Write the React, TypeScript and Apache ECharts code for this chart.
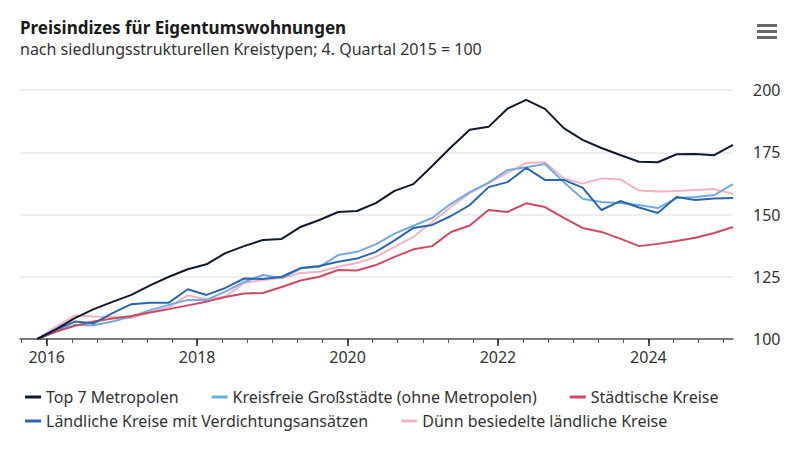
import React, { useEffect, useRef } from "react";
import * as echarts from "echarts";

const QUARTERS = [
  "Q4 2015",
  "Q1 2016", "Q2 2016", "Q3 2016", "Q4 2016",
  "Q1 2017", "Q2 2017", "Q3 2017", "Q4 2017",
  "Q1 2018", "Q2 2018", "Q3 2018", "Q4 2018",
  "Q1 2019", "Q2 2019", "Q3 2019", "Q4 2019",
  "Q1 2020", "Q2 2020", "Q3 2020", "Q4 2020",
  "Q1 2021", "Q2 2021", "Q3 2021", "Q4 2021",
  "Q1 2022", "Q2 2022", "Q3 2022", "Q4 2022",
  "Q1 2023", "Q2 2023", "Q3 2023", "Q4 2023",
  "Q1 2024", "Q2 2024", "Q3 2024", "Q4 2024",
  "Q1 2025",
];

const TOP7 = [100, 104, 108.4, 112, 114.9, 117.7, 121.5, 125, 128, 130, 134.5, 137.3, 139.8, 140.2, 145, 147.8, 151, 151.4, 154.6, 159.5, 162.2, 169.5, 177, 184, 185.2, 192.5, 196, 192.4, 184.7, 180, 176.7, 173.9, 171.2, 171, 174.2, 174.3, 173.8, 178];
const KREISFREIE = [100, 103, 105.6, 105.5, 107, 109, 111.6, 113.7, 115.7, 115.7, 119, 122.9, 125.7, 124.5, 128.3, 129, 133.7, 135, 138, 142.3, 145.5, 148.6, 154.3, 159, 162.8, 167.8, 169, 170.3, 163, 156.3, 155, 154.6, 153.8, 152.6, 156.6, 157, 157.8, 162.2];
const STAEDTISCHE = [100, 103, 105.3, 107, 108.2, 109.2, 110.6, 112, 113.5, 115, 116.9, 118.3, 118.5, 120.9, 123.5, 125, 127.7, 127.5, 129.7, 133, 136, 137.3, 143, 145.6, 151.8, 151, 154.5, 153, 148.6, 144.6, 143, 140.3, 137.3, 138.2, 139.4, 140.7, 142.6, 145];
const LAENDLICH_VERD = [100, 103.7, 107, 106.3, 110.4, 114, 114.6, 114.6, 120, 117.7, 120.5, 124.3, 124.1, 125, 128.5, 129.3, 131, 132.3, 135, 139.6, 144.6, 145.8, 149.4, 153.8, 161, 163, 168.7, 163.9, 163.9, 160.8, 151.8, 155.4, 152.8, 150.6, 157, 155.8, 156.4, 156.6];
const DUENN = [100, 105, 109.4, 109, 108.8, 108.4, 110.8, 112.8, 117.5, 116, 117, 122.5, 123.7, 124.5, 126.5, 127, 129, 130.5, 133, 137, 141, 147, 153, 158.6, 162.6, 166.7, 170.7, 171, 164.5, 162.4, 164.5, 164.1, 159.6, 159.2, 159.4, 159.8, 160.2, 158.2];

const SERIES_NAMES = [
  "Top 7 Metropolen",
  "Kreisfreie Großstädte (ohne Metropolen)",
  "Städtische Kreise",
  "Ländliche Kreise mit Verdichtungsansätzen",
  "Dünn besiedelte ländliche Kreise",
];
const SERIES_VALUES = [TOP7, KREISFREIE, STAEDTISCHE, LAENDLICH_VERD, DUENN];
const COLORS = ["#0f1b2d", "#74a9e2", "#cf4a61", "#2c66ad", "#f2b4c1"];

const X_LABELS = [2016, 2018, 2020, 2022, 2024];
const Y_MIN = 100;
const Y_MAX = 200;
const Y_STEP = 25;

const FONT = "'Noto Sans', sans-serif";

// quarter label -> decimal year at the middle of the quarter
function quarterToYear(q: string): number {
  const [qq, yy] = q.split(" ");
  const n = parseInt(qq.slice(1), 10);
  return parseInt(yy, 10) + (n - 1) * 0.25 + 0.125;
}

const X_POS = QUARTERS.map(quarterToYear);
const X_MIN = 2015.645;
const X_MAX = X_POS[X_POS.length - 1];

// minor ticks every four months
const MINOR_TICKS: number[] = [];
for (let m = 2015 * 12 + 8; m <= 2025 * 12; m += 4) MINOR_TICKS.push(m / 12);

export default function App() {
  const ref = useRef<HTMLDivElement>(null);

  useEffect(() => {
    if (!ref.current) return;
    const chart = echarts.init(ref.current, null, { renderer: "svg" });

    const legendItem = (name: string) => ({ name, icon: "rect" });

    chart.setOption({
      animation: false,
      backgroundColor: "#ffffff",
      title: {
        text: "Preisindizes für Eigentumswohnungen",
        subtext: "nach siedlungsstrukturellen Kreistypen; 4. Quartal 2015 = 100",
        left: 15,
        top: 14,
        itemGap: 5,
        textStyle: { fontFamily: FONT, fontSize: 17, fontWeight: "bold", color: "#1a1a1a" },
        subtextStyle: { fontFamily: FONT, fontSize: 16, color: "#333333" },
      },
      graphic: [
        { type: "rect", shape: { x: 757, y: 24, width: 20, height: 3 }, style: { fill: "#666666" } },
        { type: "rect", shape: { x: 757, y: 30, width: 20, height: 3 }, style: { fill: "#666666" } },
        { type: "rect", shape: { x: 757, y: 36, width: 20, height: 3 }, style: { fill: "#666666" } },
      ],
      legend: [
        {
          data: SERIES_NAMES.slice(0, 3).map(legendItem),
          left: 20,
          top: 384,
          itemWidth: 16,
          itemHeight: 3,
          itemGap: 33,
          textStyle: { fontFamily: FONT, fontSize: 16, color: "#333333" },
          selectedMode: false,
        },
        {
          data: SERIES_NAMES.slice(3).map(legendItem),
          left: 20,
          top: 408,
          itemWidth: 16,
          itemHeight: 3,
          itemGap: 33,
          textStyle: { fontFamily: FONT, fontSize: 16, color: "#333333" },
          selectedMode: false,
        },
      ],
      grid: { left: 20, right: 67, top: 90, bottom: 112 },
      xAxis: [
        {
          type: "value",
          min: X_MIN,
          max: X_MAX,
          position: "bottom",
          axisLine: { show: true, lineStyle: { color: "#555555", width: 1.5 } },
          axisTick: { show: true, customValues: MINOR_TICKS, length: 4, lineStyle: { color: "#555555", width: 1 } },
          axisLabel: {
            show: true,
            customValues: X_LABELS,
            formatter: (v: number) => String(Math.round(v)),
            fontFamily: FONT,
            fontSize: 16,
            color: "#333333",
            margin: 10,
          },
          splitLine: { show: false },
        },
        {
          type: "value",
          min: X_MIN,
          max: X_MAX,
          position: "bottom",
          axisLine: { show: false },
          axisTick: { show: true, customValues: X_LABELS, length: 7, lineStyle: { color: "#222222", width: 1.5 } },
          axisLabel: { show: false },
          splitLine: { show: false },
        },
      ],
      yAxis: {
        type: "value",
        position: "right",
        min: Y_MIN,
        max: Y_MAX,
        interval: Y_STEP,
        axisLine: { show: false },
        axisTick: { show: false },
        axisLabel: { fontFamily: FONT, fontSize: 16, color: "#333333", margin: 20 },
        splitLine: { show: true, lineStyle: { color: "#e9e9e9", width: 1.5 } },
      },
      series: SERIES_NAMES.map((name, i) => ({
        name,
        type: "line",
        xAxisIndex: 0,
        data: SERIES_VALUES[i].map((v, k) => [X_POS[k], v]),
        showSymbol: false,
        symbol: "none",
        lineStyle: { color: COLORS[i], width: 2 },
        itemStyle: { color: COLORS[i] },
        z: [5, 2, 3, 4, 1][i],
      })),
    });

    return () => chart.dispose();
  }, []);

  return (
    <div
      ref={ref}
      style={{ position: "fixed", left: 0, top: 0, width: 800, height: 451 }}
    />
  );
}
